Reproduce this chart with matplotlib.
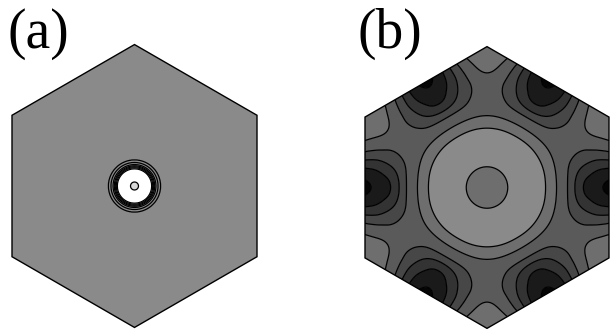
import numpy as np
import matplotlib
matplotlib.use("Agg")
import matplotlib.pyplot as plt
from matplotlib.patches import Polygon

# ---------------- data ----------------
panel_labels = ["(a)", "(b)"]

# panel (a): radial profile (radius in pixels of the reference, value)
a_radius_px = [0.0, 2.0, 4.0, 6.0, 12.0, 16.0, 17.2, 18.2, 19.2, 20.2, 21.4, 23.5, 26.0, 30.0, 60.0, 200.0]
a_value     = [6.6, 6.7, 7.0, 7.4, 7.6, 7.4, 7.0, 6.0, 5.0, 4.0, 3.0, 2.0, 1.0, 0.6, 0.4, 0.3]
a_levels    = [1, 2, 3, 4, 5, 6, 7]
a_colors    = ["#8a8a8a", "#8c8c8c", "#929292", "#a0a0a0", "#b4b4b4", "#c8c8c8", "#d8d8d8", "#ffffff"]

# panel (b): value along edge-midpoint (0 deg), half-way (15 deg) and vertex (30 deg) directions
b_rho      = [0.00, 0.10, 0.17, 0.25, 0.33, 0.41, 0.48, 0.53, 0.57, 0.62, 0.66, 0.72, 0.79, 0.86, 0.93, 1.00, 1.08, 1.16]
b_edge_mid = [5.5, 5.75, 6.0, 6.3, 6.4, 6.3, 6.0, 5.5, 5.0, 4.5, 4.0, 3.0, 2.0, 1.5, 1.1, 0.8, 0.6, 0.5]
b_half     = [5.5, 5.75, 6.0, 6.3, 6.4, 6.3, 6.03, 5.53, 5.08, 4.65, 4.3, 3.8, 3.4, 3.2, 3.2, 3.45, 3.9, 4.2]
b_vertex   = [5.5, 5.75, 6.0, 6.3, 6.4, 6.3, 6.05, 5.55, 5.15, 4.8, 4.6, 4.45, 4.35, 4.5, 4.95, 5.25, 5.45, 5.55]
b_levels   = [1, 2, 3, 4, 5, 6]
b_colors   = ["#050505", "#1a1a1a", "#333333", "#474747", "#5a5a5a", "#6e6e6e", "#8a8a8a"]

# ---------------- helpers ----------------
W, H = 610, 329
fig = plt.figure(figsize=(W / 100, H / 100), dpi=100)


def hermite(x, xp, fp):
    xp = np.asarray(xp, float)
    fp = np.asarray(fp, float)
    m = np.gradient(fp, xp)
    x = np.clip(x, xp[0], xp[-1])
    idx = np.clip(np.searchsorted(xp, x) - 1, 0, len(xp) - 2)
    h = xp[idx + 1] - xp[idx]
    t = (x - xp[idx]) / h
    h00 = 2 * t**3 - 3 * t**2 + 1
    h10 = t**3 - 2 * t**2 + t
    h01 = -2 * t**3 + 3 * t**2
    h11 = t**3 - t**2
    return h00 * fp[idx] + h10 * h * m[idx] + h01 * fp[idx + 1] + h11 * h * m[idx + 1]


def hexagon():
    ang = np.deg2rad(np.arange(90, 450, 60))
    rv = 2 / np.sqrt(3)
    return np.c_[rv * np.cos(ang), rv * np.sin(ang)]


def make_axes(cx, cy, apothem):
    hw, hh = 132, 146
    ax = fig.add_axes([(cx - hw) / W, 1 - (cy + hh) / H, 2 * hw / W, 2 * hh / H])
    ax.set_xlim(-hw / apothem, hw / apothem)
    ax.set_ylim(-hh / apothem, hh / apothem)
    ax.axis("off")
    return ax


g = np.linspace(-1.2, 1.2, 801)
X, Y = np.meshgrid(g, g)
RHO = np.hypot(X, Y)
TH = np.arctan2(Y, X)


def draw_panel(ax, Z, levels, colors):
    hx = hexagon()
    clip = Polygon(hx, closed=True, facecolor="none", edgecolor="none", transform=ax.transData)
    ax.add_patch(clip)
    lv = [Z.min() - 1] + list(levels) + [Z.max() + 1]
    cf = ax.contourf(X, Y, Z, levels=lv, colors=colors, antialiased=True)
    cf.set_clip_path(clip)
    cl = ax.contour(X, Y, Z, levels=levels, colors="black", linewidths=0.9)
    cl.set_clip_path(clip)
    ax.add_patch(Polygon(hx, closed=True, facecolor="none", edgecolor="black", lw=1.0, zorder=5))


# ---------------- panel (a) ----------------
apo_a = 122.5
ax_a = make_axes(134.5, 186, apo_a)
Za = np.interp(RHO, np.asarray(a_radius_px) / apo_a, a_value)
draw_panel(ax_a, Za, a_levels, a_colors)

# ---------------- panel (b) ----------------
apo_b = 122
ax_b = make_axes(487, 187.5, apo_b)
f0 = hermite(RHO, b_rho, b_edge_mid)
f15 = hermite(RHO, b_rho, b_half)
f30 = hermite(RHO, b_rho, b_vertex)
h1 = (f30 - f0) / 2
mid = (f0 + f30) / 2
g0 = (mid + f15) / 2
h2 = (f15 - mid) / 2
Zb = g0 - h1 * np.cos(6 * TH) - h2 * np.cos(12 * TH)
draw_panel(ax_b, Zb, b_levels, b_colors)

# ---------------- labels ----------------
for label, xpx in zip(panel_labels, [7, 358]):
    fig.text(xpx / W, 1 - 34 / H, label, fontsize=40,
             family=["Liberation Serif", "DejaVu Serif"], ha="left", va="center")

fig.savefig("out.png", dpi=100)
